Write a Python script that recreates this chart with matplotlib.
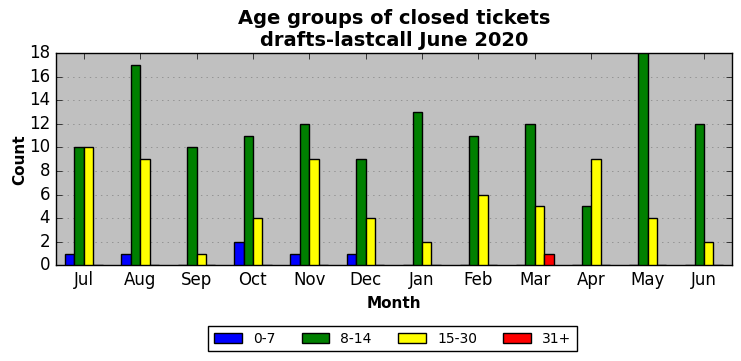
import numpy as np
import matplotlib
matplotlib.use("Agg")
import matplotlib.pyplot as plt

plt.style.use("classic")

months = ["Jul", "Aug", "Sep", "Oct", "Nov", "Dec", "Jan", "Feb", "Mar", "Apr", "May", "Jun"]
groups = ["0-7", "8-14", "15-30", "31+"]
age_0_7 = [1, 1, 0, 2, 1, 1, 0, 0, 0, 0, 0, 0]
age_8_14 = [10, 17, 10, 11, 12, 9, 13, 11, 12, 5, 18, 12]
age_15_30 = [10, 9, 1, 4, 9, 4, 2, 6, 5, 9, 4, 2]
age_31 = [0, 0, 0, 0, 0, 0, 0, 0, 1, 0, 0, 0]
colors = ["blue", "green", "yellow", "red"]

fig, ax = plt.subplots(figsize=(7.41, 3.61), dpi=100)
fig.subplots_adjust(left=0.075, right=0.988, top=0.853, bottom=0.265)
ax.set_facecolor("#c0c0c0")

x = np.arange(len(months))
w = 1 / 6
for i, (vals, lab, c) in enumerate(zip([age_0_7, age_8_14, age_15_30, age_31], groups, colors)):
    ax.bar(x + (i - 1.5) * w, vals, w, color=c, edgecolor="black", linewidth=1, label=lab,
           align="center", zorder=3)

ax.set_xlim(-0.5, len(months) - 0.5)
ax.set_ylim(0, 18)
ax.set_xticks(x)
ax.set_xticklabels(months)
ax.set_yticks(range(0, 19, 2))
ax.yaxis.grid(True, linestyle=":", color="gray", zorder=0)
ax.set_axisbelow(True)
ax.set_title("Age groups of closed tickets\ndrafts-lastcall June 2020", fontsize=14, fontweight="bold")
ax.set_xlabel("Month", fontsize=11, fontweight="bold")
ax.set_ylabel("Count", fontsize=11, fontweight="bold", labelpad=1)
ax.tick_params(labelsize=12)

fig.legend(loc="lower center", ncol=4, fontsize=10, bbox_to_anchor=(0.53, 0.008),
           handlelength=2, columnspacing=1.9, framealpha=1)

fig.savefig("out.png", dpi=100)
